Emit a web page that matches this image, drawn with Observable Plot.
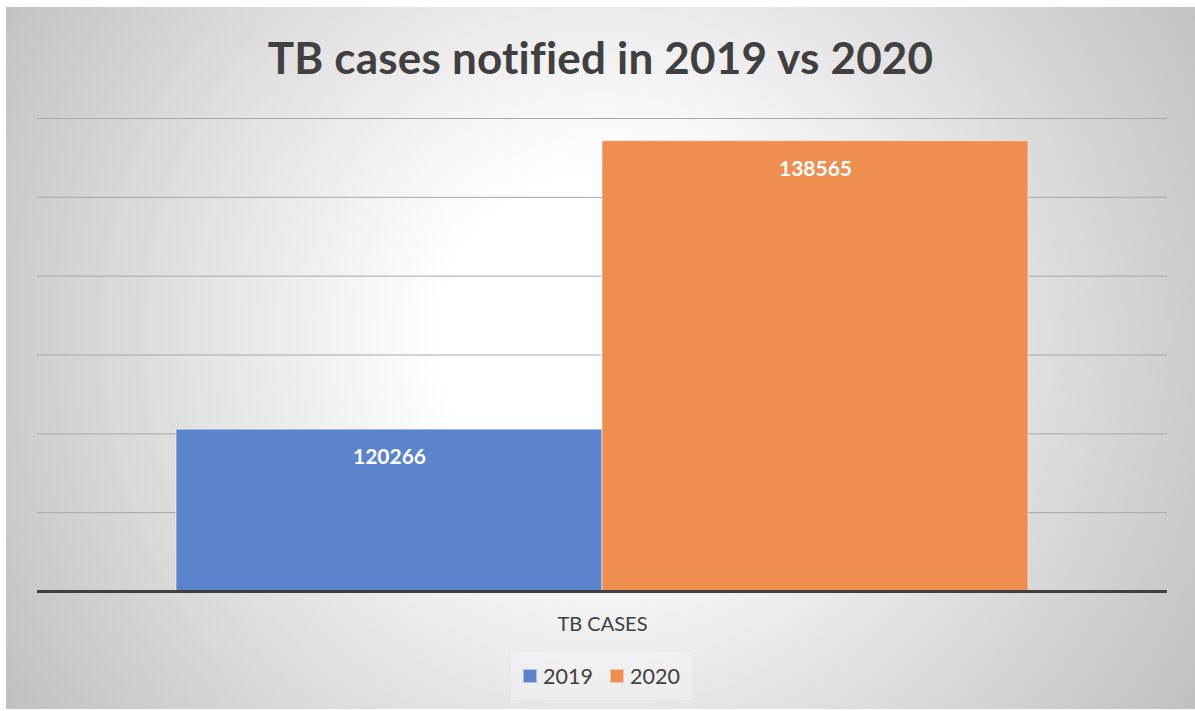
<!DOCTYPE html>
<html>
<head>
<meta charset="utf-8">
<script src="https://cdn.jsdelivr.net/npm/d3@7"></script>
<script src="https://cdn.jsdelivr.net/npm/@observablehq/plot@0.6"></script>
<style>
  html, body { margin: 0; padding: 0; background: #ffffff; }
  #chart {
    position: absolute; left: 6px; top: 7px; width: 1189px; height: 702px;
    background: radial-gradient(circle farthest-corner at 50% 47%, #ffffff 23%, #c0c0c0 100%);
    font-family: Lato, "Open Sans", sans-serif; overflow: hidden;
  }
  #title {
    position: absolute; left: 0; top: 0; width: 100%; height: 93px;
    text-align: center; font-weight: bold; font-size: 44px; color: #404040;
    line-height: 93px; letter-spacing: 0.2px; padding-top: 4px; box-sizing: border-box;
  }
  #plot { position: absolute; left: 0; top: 93px; }
  #legend {
    position: absolute; left: 505px; top: 645px; width: 181px; height: 48px;
    background: rgba(255,255,255,0.25);
    display: flex; align-items: center; justify-content: center; gap: 17px;
    font-size: 21.5px; color: #404040;
  }
  .item { display: flex; align-items: center; gap: 6px; }
  .sw { width: 12px; height: 12px; border: 1px solid rgba(255,255,255,0.5); }
</style>
</head>
<body>
<div id="chart">
  <div id="title"></div>
  <div id="plot"></div>
  <div id="legend"></div>
</div>
<script>
const title = "TB cases notified in 2019 vs 2020";
const category = "TB CASES";
const years = ["2019", "2020"];
const values = [120266, 138565];
const colors = ["#5b84cc", "#ee8f4f"];
const yDomain = [110000, 140000];
const yTicks = [110000, 115000, 120000, 125000, 130000, 135000, 140000];

document.getElementById("title").textContent = title;

const data = years.map((y, i) => ({year: y, value: values[i]}));

const plot = Plot.plot({
  width: 1189,
  height: 560,
  marginTop: 18,
  marginBottom: 69,
  marginLeft: 31,
  marginRight: 28,
  style: {background: "transparent", fontFamily: "Lato, 'Open Sans', sans-serif", overflow: "visible"},
  x: {type: "band", domain: years, paddingInner: 0, paddingOuter: 0.3232, axis: null},
  y: {domain: yDomain, axis: null},
  color: {domain: years, range: colors},
  marks: [
    Plot.gridY(yTicks.slice(1), {stroke: "#a8a8a8", strokeOpacity: 1, strokeWidth: 1}),
    Plot.barY(data, {x: "year", y1: yDomain[0], y2: "value", fill: "year", stroke: "#ffffff", strokeOpacity: 0.45, strokeWidth: 1.2}),
    Plot.text(data, {x: "year", y: "value", text: d => String(d.value), dy: 28, fill: "#ffffff", fontWeight: "bold", fontSize: 21}),
    Plot.ruleY([yDomain[0]], {stroke: "#404040", strokeWidth: 3}),
    Plot.text([category], {frameAnchor: "bottom", dy: 39, text: d => d, fill: "#404040", fontSize: 20})
  ]
});
document.getElementById("plot").appendChild(plot);

const legend = document.getElementById("legend");
years.forEach((y, i) => {
  const it = document.createElement("div");
  it.className = "item";
  const sw = document.createElement("div");
  sw.className = "sw";
  sw.style.background = colors[i];
  const t = document.createElement("span");
  t.textContent = y;
  it.appendChild(sw); it.appendChild(t);
  legend.appendChild(it);
});
</script>
</body>
</html>
